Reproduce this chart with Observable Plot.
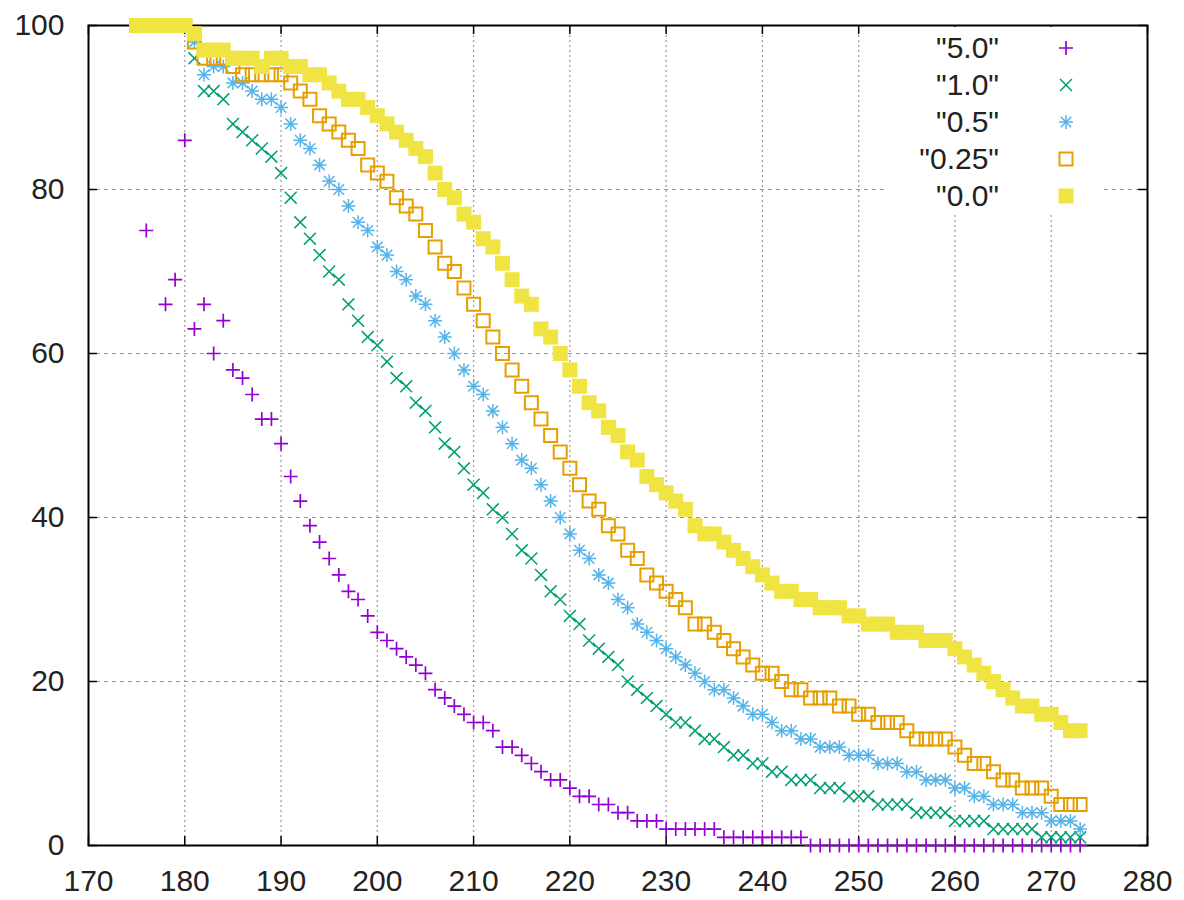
<!DOCTYPE html>
<html>
<head>
<meta charset="utf-8">
<script src="https://cdn.jsdelivr.net/npm/d3@7"></script>
<script src="https://cdn.jsdelivr.net/npm/@observablehq/plot@0.6"></script>
<style>
  html, body { margin: 0; padding: 0; background: #fff; }
  #wrap { position: relative; width: 1184px; height: 900px; font-family: "Liberation Sans", Arial, sans-serif; }
  #legend { position: absolute; left: 885px; top: 27px; width: 215px; height: 188px; background: #fff; }
  .row { position: absolute; left: 0; width: 215px; height: 37px; }
  .row span { position: absolute; right: 101px; top: 0; font-size: 30px; line-height: 37px; color: #222; white-space: nowrap; }
  .row svg { position: absolute; left: 168px; top: 6px; overflow: visible; }
</style>
</head>
<body>
<div id="wrap"></div>
<script>
// ---- data (x = 175 .. 273) ----
const days = [175,176,177,178,179,
  180,181,182,183,184,185,186,187,188,189,
  190,191,192,193,194,195,196,197,198,199,
  200,201,202,203,204,205,206,207,208,209,
  210,211,212,213,214,215,216,217,218,219,
  220,221,222,223,224,225,226,227,228,229,
  230,231,232,233,234,235,236,237,238,239,
  240,241,242,243,244,245,246,247,248,249,
  250,251,252,253,254,255,256,257,258,259,
  260,261,262,263,264,265,266,267,268,269,
  270,271,272,273];

const s50 = [null,75,null,66,69,
  86,63,66,60,64,58,57,55,52,52,
  49,45,42,39,37,35,33,31,30,28,
  26,25,24,23,22,21,19,18,17,16,
  15,15,14,12,12,11,10,9,8,8,
  7,6,6,5,5,4,4,3,3,3,
  2,2,2,2,2,2,1,1,1,1,
  1,1,1,1,1,0,0,0,0,0,
  0,0,0,0,0,0,0,0,0,0,
  0,0,0,0,0,0,0,0,0,0,
  0,0,0,0];

const s10 = [100,100,100,100,100,
  100,96,92,92,91,88,87,86,85,84,
  82,79,76,74,72,70,69,66,64,62,
  61,59,57,56,54,53,51,49,48,46,
  44,43,41,40,38,36,35,33,31,30,
  28,27,25,24,23,22,20,19,18,17,
  16,15,15,14,13,13,12,11,11,10,
  10,9,9,8,8,8,7,7,7,6,
  6,6,5,5,5,5,4,4,4,4,
  3,3,3,3,2,2,2,2,2,1,
  1,1,1,1];

const s05 = [100,100,100,100,100,
  100,98,94,95,95,93,93,92,91,91,
  90,88,86,85,83,81,80,78,76,75,
  73,72,70,69,67,66,64,62,60,58,
  56,55,53,51,49,47,46,44,42,40,
  38,36,35,33,32,30,29,27,26,25,
  24,23,22,21,20,19,19,18,17,16,
  16,15,14,14,13,13,12,12,12,11,
  11,11,10,10,10,9,9,8,8,8,
  7,7,6,6,5,5,5,4,4,4,
  3,3,3,2];

const s025 = [100,100,100,100,100,
  100,98,96,96,96,95,94,94,94,94,
  94,93,92,91,89,88,87,86,85,83,
  82,81,79,78,77,75,73,71,70,68,
  66,64,62,60,58,56,54,52,50,48,
  46,44,42,41,39,38,36,35,33,32,
  31,30,29,27,27,26,25,24,23,22,
  21,21,20,19,19,18,18,18,17,17,
  16,16,15,15,15,14,13,13,13,13,
  12,11,10,10,9,8,8,7,7,7,
  6,5,5,5];

const s00 = [100,100,100,100,100,
  100,99,97,97,97,96,96,96,95,96,
  96,95,95,94,94,93,92,91,91,90,
  89,88,87,86,85,84,82,80,79,77,
  76,74,73,71,69,67,66,63,62,60,
  58,56,54,53,51,50,48,47,45,44,
  43,42,41,39,38,38,37,36,35,34,
  33,32,31,31,30,30,29,29,29,28,
  28,27,27,27,26,26,26,25,25,25,
  24,23,22,21,20,19,18,17,17,16,
  16,15,14,14];

const seriesNames = ['"5.0"', '"1.0"', '"0.5"', '"0.25"', '"0.0"'];
const seriesValues = [s50, s10, s05, s025, s00];
const seriesColors = ["#9400d3", "#009e73", "#56b4e9", "#e69f00", "#f0e442"];
const xTicks = [170,180,190,200,210,220,230,240,250,260,270,280];
const yTicks = [0,20,40,60,80,100];

// ---- symbols (gnuplot point types) ----
const H = 7;
const symPlus = { draw(c) { c.moveTo(-H,0); c.lineTo(H,0); c.moveTo(0,-H); c.lineTo(0,H); } };
const symTimes = { draw(c) { const h=H*0.85; c.moveTo(-h,-h); c.lineTo(h,h); c.moveTo(-h,h); c.lineTo(h,-h); } };
const symStar = { draw(c) { const h=H*0.75; c.moveTo(-H,0); c.lineTo(H,0); c.moveTo(0,-H); c.lineTo(0,H); c.moveTo(-h,-h); c.lineTo(h,h); c.moveTo(-h,h); c.lineTo(h,-h); } };
const symBox = { draw(c) { c.rect(-6.5,-6.5,13,13); } };
const symBoxF = { draw(c) { c.rect(-7.5,-7.5,15,15); } };
const symbols = [symPlus, symTimes, symStar, symBox, symBoxF];
const fills = ["none", "none", "none", "none", seriesColors[4]];
const widths = [1.7, 1.5, 1.5, 2, 0];

const tables = seriesValues.map((vals) =>
  days.map((d, i) => ({x: d, y: vals[i]})).filter(r => r.y !== null));

const W = 1184, HT = 900, mL = 88, mR = 37, mT = 25, mB = 55;
const pw = W - mL - mR, ph = HT - mT - mB;

const gridStyle = {stroke: "#9a9a9a", strokeOpacity: 1, strokeWidth: 1.2};

const marks = [
  Plot.ruleX(xTicks.slice(1, -1), {x: d => d, ...gridStyle, strokeDasharray: "2,3"}),
  Plot.ruleY(yTicks.slice(1, -1), {y: d => d, ...gridStyle, strokeDasharray: "4,4"}),
  Plot.tickX(xTicks, {x: d => d, insetTop: ph - 9, stroke: "#000", strokeWidth: 1.5}),
  Plot.tickX(xTicks, {x: d => d, insetBottom: ph - 9, stroke: "#000", strokeWidth: 1.5}),
  Plot.tickY(yTicks, {y: d => d, insetRight: pw - 9, stroke: "#000", strokeWidth: 1.5}),
  Plot.tickY(yTicks, {y: d => d, insetLeft: pw - 9, stroke: "#000", strokeWidth: 1.5}),
  Plot.axisX({ticks: xTicks, tickSize: 0, tickPadding: 24, fontSize: 30, fill: "#222", label: null, tickFormat: d => String(d)}),
  Plot.axisY({ticks: yTicks, tickSize: 0, tickPadding: 24, fontSize: 30, fill: "#222", label: null, tickFormat: d => String(d)}),
  Plot.frame({stroke: "#000", strokeWidth: 2})
];
tables.forEach((t, i) => {
  marks.push(Plot.dot(t, {
    x: "x", y: "y", r: 3,
    symbol: symbols[i],
    fill: fills[i],
    stroke: i === 4 ? "none" : seriesColors[i],
    strokeWidth: widths[i]
  }));
});

const chart = Plot.plot({
  width: W, height: HT,
  marginLeft: mL, marginRight: mR, marginTop: mT, marginBottom: mB,
  style: {fontFamily: "'Liberation Sans', Arial, sans-serif", fontSize: "30px", background: "#fff", color: "#222", overflow: "visible"},
  x: {domain: [170, 280], label: null},
  y: {domain: [0, 100], label: null},
  marks
});

const wrap = document.getElementById("wrap");
wrap.appendChild(chart);

// ---- legend (gnuplot key, opaque) ----
const legend = document.createElement("div");
legend.id = "legend";
seriesNames.forEach((name, i) => {
  const row = document.createElement("div");
  row.className = "row";
  row.style.top = (2 + i * 37) + "px";
  const span = document.createElement("span");
  span.textContent = name;
  row.appendChild(span);
  const svg = d3.create("svg").attr("width", 26).attr("height", 26);
  const p = d3.path();
  symbols[i].draw(p);
  svg.append("path")
    .attr("transform", "translate(13,13)")
    .attr("d", p.toString())
    .attr("fill", fills[i])
    .attr("stroke", i === 4 ? "none" : seriesColors[i])
    .attr("stroke-width", widths[i]);
  row.appendChild(svg.node());
  legend.appendChild(row);
});
wrap.appendChild(legend);
</script>
</body>
</html>
